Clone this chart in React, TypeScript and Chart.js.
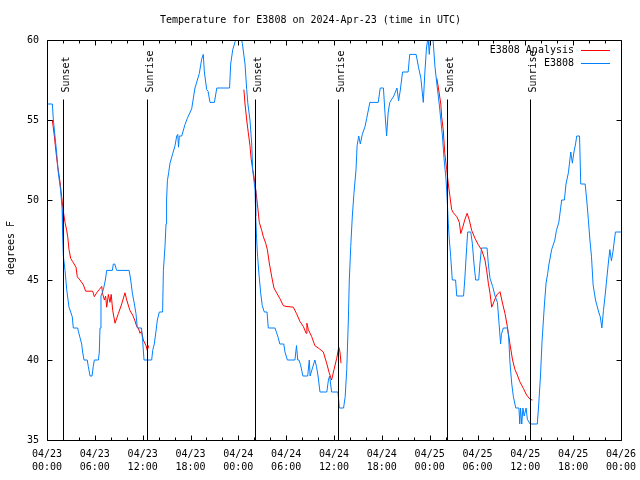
import React, { useEffect, useRef } from 'react';
import { Chart, registerables } from 'chart.js';

Chart.register(...registerables);

const chartTitle = 'Temperature for E3808 on 2024-Apr-23 (time in UTC)';
const yAxisTitle = 'degrees F';
const seriesNames = ['E3808 Analysis', 'E3808'];
const seriesColors = ['#ff0000', '#0080ff'];

// hours since 2024-04-23 00:00 UTC
const obsHours = [
  0.0, 0.67, 0.8, 1.0, 1.2, 1.42, 1.71, 1.9, 1.95, 2.05, 2.26, 2.47, 2.76, 2.97, 3.17, 3.3, 3.85, 3.93, 4.14, 4.35,
  4.47, 4.64, 5.05, 5.18, 5.4, 5.65, 5.8, 5.94, 6.45, 6.56, 6.65, 6.77, 7.07, 7.32, 7.49, 8.2, 8.32, 8.5, 8.74, 10.3,
  10.5, 10.7, 10.96, 11.16, 11.33, 11.85, 12.0, 12.17, 13.13, 13.26, 13.46, 13.67, 13.84, 14.09, 14.5, 14.6, 14.8, 14.93, 15.0, 15.1,
  15.26, 15.43, 15.77, 16.06, 16.27, 16.4, 16.5, 16.6, 16.9, 17.3, 17.6, 18.15, 18.56, 19.1, 19.4, 19.6, 19.74, 20.03, 20.2, 20.45,
  21.0, 21.3, 22.9, 23.04, 23.3, 23.6, 23.9, 24.3, 24.5, 24.84, 25.05, 25.2, 25.46, 25.68, 25.8, 26.1, 26.18, 26.3, 26.42, 26.6,
  26.8, 27.0, 27.26, 27.6, 27.76, 28.6, 28.8, 29.0, 29.2, 29.7, 29.85, 30.15, 31.1, 31.3, 31.45, 31.6, 31.8, 32.1, 32.7, 32.9,
  33.0, 33.3, 33.6, 33.8, 34.0, 34.24, 35.1, 35.3, 35.45, 35.7, 36.5, 36.67, 37.2, 37.4, 37.6, 37.8, 37.92, 38.1, 38.3, 38.5,
  38.76, 38.9, 39.1, 39.3, 39.55, 39.9, 40.1, 40.5, 41.55, 41.8, 42.2, 42.4, 42.6, 42.8, 43.0, 43.5, 43.9, 44.1, 44.3, 44.6,
  45.3, 45.5, 46.3, 46.6, 46.9, 47.2, 47.4, 47.6, 47.8, 47.95, 48.1, 48.4, 48.67, 48.96, 49.2, 49.4, 49.6, 49.8, 50.05, 50.2,
  50.34, 50.47, 50.64, 50.84, 51.25, 51.4, 52.25, 52.4, 52.65, 52.77, 53.15, 53.35, 53.56, 53.77, 54.15, 54.3, 54.5, 55.2, 55.36, 55.57,
  55.9, 56.2, 56.5, 56.7, 56.9, 57.0, 57.24, 57.75, 57.9, 58.08, 58.3, 58.5, 58.8, 59.2, 59.3, 59.4, 59.55, 59.7, 59.85, 60.1,
  60.25, 60.6, 61.5, 61.65, 61.9, 62.1, 62.4, 62.6, 62.8, 62.97, 63.3, 63.7, 63.9, 64.2, 64.56, 64.9, 65.1, 65.4, 65.7, 65.9,
  66.1, 66.3, 66.45, 66.8, 66.95, 67.5, 67.7, 67.9, 68.1, 68.3, 68.5, 68.8, 69.2, 69.4, 69.6, 69.8, 70.0, 70.2, 70.4, 70.6,
  70.8, 71.0, 71.3, 72.0,
];
const obsTemps = [
  56, 56, 55, 54, 53, 51.7, 50.6, 49.4, 48, 46.5, 45.6, 44.4, 43.3, 43, 42.7, 42, 42, 41.8, 41.4, 41,
  40.5, 40, 40, 39.6, 39, 39, 39.6, 40, 40, 40.5, 42, 44, 44.4, 45, 45.6, 45.6, 46, 46, 45.6, 45.6,
  45, 44.2, 43.5, 42.9, 42, 42, 41.2, 40, 40, 40.6, 41, 41.8, 42.5, 43, 43, 45.6, 47.1, 48.5, 50, 51.2,
  51.7, 52.3, 52.9, 53.4, 54, 54.1, 53.3, 54, 54, 54.7, 55.1, 55.7, 57, 57.9, 58.8, 59.1, 58, 56.9, 56.8, 56.1,
  56.1, 57, 57, 58.5, 59.4, 59.9, 60.2, 60.2, 59.8, 58.5, 56.9, 56, 55, 53.5, 51.9, 50.6, 49, 47.5, 46.45, 45.3,
  44.2, 43.4, 43, 43, 42, 42, 41.7, 41.4, 41, 41, 40.5, 40, 40, 40.9, 40, 40, 39.7, 39, 39, 40,
  39, 39.5, 40, 39.6, 39, 38, 38, 38.75, 39, 38, 38, 37, 37, 37.7, 39.4, 42.5, 45, 47.1, 49, 50.4,
  51.9, 53.4, 54, 53.5, 54.1, 54.6, 55.1, 56.1, 56.1, 57, 57, 55.4, 54, 55.5, 56.1, 56.5, 57, 56.2, 56.8, 58,
  58, 59.1, 59.1, 58.3, 57.6, 56.1, 58, 59.5, 60.2, 59.1, 60.2, 60.2, 58.3, 57, 56, 55, 54, 52.6, 51.3, 50,
  48.5, 47.5, 46.45, 45, 45, 44, 44, 45, 47.1, 48, 48, 47.3, 46, 45, 45, 46, 47, 47, 46, 45.1,
  44.6, 44, 43.6, 42.3, 41, 41.6, 42, 42, 41.5, 39.8, 38.5, 37.7, 37, 37, 36, 37, 36, 37, 36.5, 37,
  36.3, 36, 36, 37, 39, 41.2, 43.5, 44.8, 45.4, 46, 46.9, 47.5, 48.1, 48.6, 50, 50, 51, 51.7, 53, 52.3,
  53, 53.5, 54, 54, 51, 51, 50, 48.8, 47.5, 46.45, 44.7, 43.75, 43, 42.7, 42, 43.1, 44, 45, 46, 46.9,
  46.2, 46.8, 48, 48,
];

const anaHours = [
  0.67, 0.92, 1.13, 1.34, 1.63, 1.84, 2.05, 2.26, 2.47, 2.6, 2.76, 2.97, 3.22, 3.64, 3.8, 4.14, 4.56, 4.85, 5.73, 5.94,
  6.23, 6.56, 6.86, 7.0, 7.2, 7.35, 7.49, 7.7, 7.9, 8.05, 8.24, 8.53, 8.95, 9.37, 9.78, 10.0, 10.4, 10.75, 11.0, 11.25,
  11.45, 11.67, 11.85, 12.08, 12.42, 12.58, 12.75, 18.0,
  24.7, 24.84, 25.05, 25.25, 25.46, 25.6, 25.8, 25.97, 26.2, 26.38, 26.63, 26.93, 27.14, 27.43, 27.64, 27.9, 28.19, 28.47, 28.8, 29.2,
  29.64, 29.98, 30.9, 31.3, 31.74, 32.15, 32.5, 32.6, 32.78, 33.2, 33.6, 34.16, 34.66, 35.08, 35.4, 35.7, 36.0, 36.34, 36.6, 36.75,
  36.88, 42.0,
  48.9, 49.1, 49.4, 49.5, 49.7, 49.9, 50.14, 50.34, 50.55, 50.76, 50.97, 51.4, 51.72, 51.9, 52.15, 52.4, 52.7, 52.97, 53.27, 53.69,
  54.1, 54.5, 54.94, 55.15, 55.36, 55.57, 55.78, 56.07, 56.4, 56.82, 57.16, 57.45, 57.74, 58.07, 58.4, 58.7, 59.0, 59.3, 59.75, 60.17,
  60.6, 60.9,
];
const anaTemps = [
  55, 54, 53, 52.1, 51.15, 50.2, 49.3, 48.6, 48.1, 47.7, 46.9, 46.35, 46.15, 45.8, 45.2, 45, 44.7, 44.3, 44.3, 43.96,
  44.2, 44.4, 44.6, 44.1, 43.75, 44.0, 43.3, 44.1, 43.6, 44.1, 43.1, 42.3, 42.9, 43.5, 44.2, 43.75, 43.1, 42.8, 42.5, 42.1,
  42.0, 41.67, 41.8, 41.25, 40.9, 40.6, 40.9, null,
  56.9, 56, 55, 54.2, 53.4, 52.6, 51.9, 51.46, 50.6, 49.8, 48.6, 48.1, 47.7, 47.3, 46.9, 46, 45.2, 44.5, 44.2, 43.85,
  43.4, 43.35, 43.3, 42.9, 42.4, 42.1, 41.67, 42.3, 41.9, 41.46, 40.9, 40.7, 40.5, 39.8, 39.2, 38.75, 39.4, 40.1, 40.8, 40.5,
  39.8, null,
  57.6, 57, 56, 55.2, 54.4, 52.9, 51.9, 51, 50.2, 49.4, 49.2, 48.96, 48.6, 47.9, 48.3, 48.75, 49.17, 48.75, 48.1, 47.6,
  47.2, 46.9, 46.25, 45.6, 44.8, 44.17, 43.3, 43.65, 44.06, 44.27, 43.5, 42.9, 42.1, 41, 40, 39.4, 39.06, 38.65, 38.23, 37.8,
  37.54, 37.5,
];

const xMin = 0;
const xMax = 72;
const xLabelStep = 6;
const xMinorStep = 2;
const xTickDates = ['04/23', '04/23', '04/23', '04/23', '04/24', '04/24', '04/24', '04/24', '04/25', '04/25', '04/25', '04/25', '04/26'];
const xTickTimes = ['00:00', '06:00', '12:00', '18:00', '00:00', '06:00', '12:00', '18:00', '00:00', '06:00', '12:00', '18:00', '00:00'];
const yMin = 35;
const yMax = 60;
const yStep = 5;

const sunHours = [2.05, 12.58, 26.13, 36.54, 50.21, 60.63];
const sunLabels = ['Sunset', 'Sunrise', 'Sunset', 'Sunrise', 'Sunset', 'Sunrise'];

const FONT_FAMILY = "'DejaVu Sans Mono', 'Liberation Mono', monospace";
const FONT = `10px ${FONT_FAMILY}`;

const decorPlugin = {
  id: 'decor',
  afterDatasetsDraw(chart: any) {
    const { ctx, chartArea: a, scales } = chart;
    const xs = scales.x;
    const ys = scales.y;
    const L = Math.round(a.left) + 0.5;
    const R = Math.round(a.right) + 0.5;
    const T = Math.round(a.top) + 0.5;
    const B = Math.round(a.bottom) + 0.5;
    ctx.save();
    ctx.strokeStyle = '#000';
    ctx.fillStyle = '#000';
    ctx.lineWidth = 1;
    ctx.font = FONT;

    // sunrise / sunset markers
    sunHours.forEach((h, i) => {
      const px = Math.round(xs.getPixelForValue(h)) + 0.5;
      ctx.beginPath();
      ctx.moveTo(px, T + 59);
      ctx.lineTo(px, B);
      ctx.stroke();
      ctx.save();
      ctx.translate(px + 5, T + 52);
      ctx.rotate(-Math.PI / 2);
      ctx.textAlign = 'left';
      ctx.textBaseline = 'alphabetic';
      ctx.fillText(sunLabels[i], 0, 0);
      ctx.restore();
    });

    // frame
    ctx.beginPath();
    ctx.rect(L, T, R - L, B - T);
    ctx.stroke();

    // inward x ticks (bottom and top)
    ctx.beginPath();
    for (let h = xMin; h <= xMax; h += xMinorStep) {
      const px = Math.round(xs.getPixelForValue(h)) + 0.5;
      const len = h % xLabelStep === 0 ? 5 : 3;
      ctx.moveTo(px, B);
      ctx.lineTo(px, B - len);
      ctx.moveTo(px, T);
      ctx.lineTo(px, T + len);
    }
    // inward y ticks (left and right)
    for (let v = yMin; v <= yMax; v += yStep) {
      const py = Math.round(ys.getPixelForValue(v)) + 0.5;
      ctx.moveTo(L, py);
      ctx.lineTo(L + 5, py);
      ctx.moveTo(R, py);
      ctx.lineTo(R - 5, py);
    }
    ctx.stroke();

    // legend
    ctx.textAlign = 'right';
    ctx.textBaseline = 'middle';
    chart.data.datasets.forEach((ds: any, i: number) => {
      const yy = Math.round(a.top + 10 + i * 13) + 0.5;
      ctx.fillStyle = '#000';
      ctx.fillText(ds.label, a.right - 47, yy);
      ctx.strokeStyle = ds.borderColor;
      ctx.beginPath();
      ctx.moveTo(a.right - 40, yy);
      ctx.lineTo(a.right - 11, yy);
      ctx.stroke();
    });

    // y axis title
    ctx.fillStyle = '#000';
    ctx.save();
    ctx.translate(11, (a.top + a.bottom) / 2 + 8);
    ctx.rotate(-Math.PI / 2);
    ctx.textAlign = 'center';
    ctx.textBaseline = 'middle';
    ctx.fillText(yAxisTitle, 0, 0);
    ctx.restore();

    ctx.restore();
  },
};

export default function App() {
  const canvasRef = useRef<HTMLCanvasElement | null>(null);

  useEffect(() => {
    const canvas = canvasRef.current;
    if (!canvas) return;
    const chart = new Chart(canvas, {
      type: 'line',
      data: {
        datasets: [
          {
            label: seriesNames[0],
            data: anaHours.map((h, i) => ({ x: h, y: anaTemps[i] })),
            borderColor: seriesColors[0],
            backgroundColor: seriesColors[0],
            borderWidth: 1,
            pointRadius: 0,
            tension: 0,
            spanGaps: false,
            order: 1,
          },
          {
            label: seriesNames[1],
            data: obsHours.map((h, i) => ({ x: h, y: obsTemps[i] })),
            borderColor: seriesColors[1],
            backgroundColor: seriesColors[1],
            borderWidth: 1,
            pointRadius: 0,
            tension: 0,
            order: 0,
          },
        ],
      },
      options: {
        animation: false,
        responsive: false,
        devicePixelRatio: 1,
        layout: { padding: { left: 0, right: 19, top: 0, bottom: 0 } },
        plugins: {
          legend: { display: false },
          tooltip: { enabled: false },
          title: {
            display: true,
            text: chartTitle,
            color: '#000',
            font: { family: FONT_FAMILY, size: 10, weight: 'normal', lineHeight: 1.2 },
            padding: { top: 14, bottom: 14 },
          },
        },
        scales: {
          x: {
            type: 'linear',
            min: xMin,
            max: xMax,
            grid: { display: false, drawTicks: false, tickLength: 0 },
            border: { display: false },
            ticks: {
              stepSize: xLabelStep,
              autoSkip: false,
              maxRotation: 0,
              minRotation: 0,
              padding: 8,
              color: '#000',
              font: { family: FONT_FAMILY, size: 10, lineHeight: 1.3 },
              callback: (v: any) => {
                const i = Math.round((Number(v) - xMin) / xLabelStep);
                return [xTickDates[i], xTickTimes[i]];
              },
            },
            afterFit: (s: any) => {
              s.height = 40;
              s.paddingLeft = 0;
              s.paddingRight = 0;
            },
          },
          y: {
            type: 'linear',
            min: yMin,
            max: yMax,
            grid: { display: false, drawTicks: false, tickLength: 0 },
            border: { display: false },
            ticks: {
              stepSize: yStep,
              padding: 8,
              color: '#000',
              font: { family: FONT_FAMILY, size: 10 },
            },
            afterFit: (s: any) => {
              s.width = 47;
              s.paddingTop = 0;
              s.paddingBottom = 0;
            },
          },
        },
      },
      plugins: [decorPlugin],
    });
    return () => chart.destroy();
  }, []);

  return (
    <div style={{ position: 'absolute', left: 0, top: 0, width: 640, height: 480, background: '#fff' }}>
      <canvas ref={canvasRef} width={640} height={480} style={{ display: 'block' }} />
    </div>
  );
}
